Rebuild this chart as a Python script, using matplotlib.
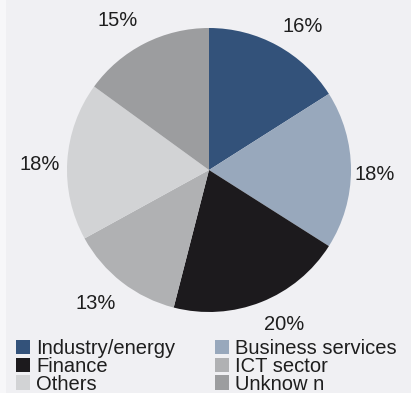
import matplotlib.pyplot as plt
from matplotlib.patches import Rectangle

plt.rcParams['font.family'] = ['Liberation Sans', 'DejaVu Sans']

# Share by sector (%)
sectors = ["Industry/energy", "Business services", "Finance",
           "ICT sector", "Others", "Unknow n"]
shares = [16, 18, 20, 13, 18, 15]
colors = ["#33527a", "#98a8bc", "#1c1a1d", "#b0b1b3", "#d2d3d5", "#9c9d9f"]

# small shifts of the percentage labels (in pie radii)
label_nudge = [(0.089, -0.032), (-0.021, -0.032), (0.090, 0.015),
               (-0.067, 0.003), (-0.002, -0.036), (-0.101, -0.011)]

bg = "#f0f0f3"
W, H = 411, 393
fig = plt.figure(figsize=(W / 100, H / 100), dpi=100, facecolor=bg)
fig.patches.append(Rectangle((0, 0), 6 / W, 1, transform=fig.transFigure,
                             facecolor="#f7f7f9", edgecolor="none"))

# pie axes: centre (209, 170) px, radius 142 px
cx, cy, r = 209, 170, 142
ax = fig.add_axes([(cx - r) / W, (H - cy - r) / H, 2 * r / W, 2 * r / H])
ax.set_facecolor(bg)

wedges, _, autotexts = ax.pie(
    shares, colors=colors, startangle=90, counterclock=False,
    autopct=lambda p: f"{p:.0f}%", pctdistance=1.19, radius=1,
    wedgeprops=dict(linewidth=0),
    textprops=dict(fontsize=14.5, color="#1e1e1e"),
)
for t, (dx, dy) in zip(autotexts, label_nudge):
    x, y = t.get_position()
    t.set_position((x + dx, y + dy))

ax.set_xlim(-1, 1)
ax.set_ylim(-1, 1)
ax.set_aspect("equal")
ax.axis("off")

# legend filled column by column: left column then right column
order = [0, 2, 4, 1, 3, 5]
leg = fig.legend(
    [wedges[i] for i in order], [sectors[i] for i in order],
    ncol=2, loc="upper left", bbox_to_anchor=(16 / W, 1 - 339 / H),
    frameon=False, fontsize=14.5, handlelength=0.7, handleheight=0.7,
    handletextpad=0.3, columnspacing=1.95, labelspacing=-0.06,
    borderpad=0, borderaxespad=0,
)
for t in leg.get_texts():
    t.set_color("#1e1e1e")

fig.savefig("out.png", dpi=100, facecolor=bg)
